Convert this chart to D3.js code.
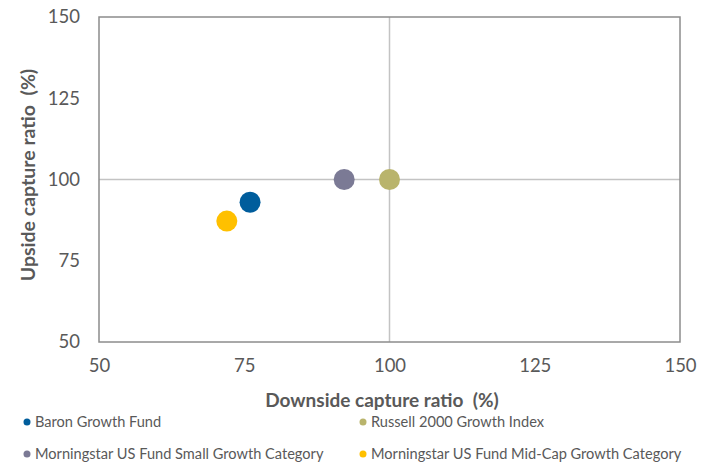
<!DOCTYPE html>
<html>
<head>
<meta charset="utf-8">
<script src="https://cdn.jsdelivr.net/npm/d3@7"></script>
<style>
  body { margin: 0; background: #fff; }
  text { font-family: Lato, "Open Sans", sans-serif; fill: #595959; white-space: pre; }
</style>
</head>
<body>
<svg id="vis" width="709" height="466"></svg>
<script>
// data
let names = ["Baron Growth Fund", "Russell 2000 Growth Index",
             "Morningstar US Fund Small Growth Category", "Morningstar US Fund Mid-Cap Growth Category"];
let downside = [76.0, 100.0, 92.2, 72.0];
let upside = [93.0, 100.0, 100.0, 87.2];
let colors = ["#005d9c", "#b9b46c", "#7b7a95", "#ffc000"];
let ticks = [50, 75, 100, 125, 150];

let svg = d3.select("#vis");
let plotLeft = 99, plotRight = 680, plotTop = 17, plotBottom = 342;

let x = d3.scaleLinear().domain([50, 150]).range([plotLeft, plotRight]);
let y = d3.scaleLinear().domain([50, 150]).range([plotBottom, plotTop]);

// reference lines at 100
svg.append("line")
  .attr("x1", x(100)).attr("x2", x(100))
  .attr("y1", plotTop).attr("y2", plotBottom)
  .attr("stroke", "#c3c3c3").attr("stroke-width", 1.5);
svg.append("line")
  .attr("x1", plotLeft).attr("x2", plotRight)
  .attr("y1", y(100)).attr("y2", y(100))
  .attr("stroke", "#c3c3c3").attr("stroke-width", 1.5);

// frame
svg.append("rect")
  .attr("x", plotLeft).attr("y", plotTop)
  .attr("width", plotRight - plotLeft).attr("height", plotBottom - plotTop)
  .attr("fill", "none").attr("stroke", "#8c8c8c").attr("stroke-width", 1.5);

// axes
let xAxis = svg.append("g").attr("transform", `translate(0,${plotBottom})`)
  .call(d3.axisBottom(x).tickValues(ticks).tickSize(0).tickPadding(17));
let yAxis = svg.append("g").attr("transform", `translate(${plotLeft},0)`)
  .call(d3.axisLeft(y).tickValues(ticks).tickSize(0).tickPadding(19));
[xAxis, yAxis].forEach(a => {
  a.select(".domain").remove();
  a.selectAll("text").style("font-size", "18.5px").attr("fill", "#595959")
    .style("font-family", "Lato, 'Open Sans', sans-serif");
});

svg.append("text")
  .attr("x", 382).attr("y", 407)
  .attr("text-anchor", "middle")
  .style("font-size", "19px").style("font-weight", "bold")
  .text("Downside capture ratio  (%)");
svg.append("text")
  .attr("transform", `translate(35,${175}) rotate(-90)`)
  .attr("text-anchor", "middle")
  .style("font-size", "19.5px").style("font-weight", "bold")
  .text("Upside capture ratio  (%)");

// points
svg.append("g").selectAll("circle")
  .data(names)
  .enter()
  .append("circle")
  .attr("cx", (d, i) => x(downside[i]))
  .attr("cy", (d, i) => y(upside[i]))
  .attr("r", 10.5)
  .attr("fill", (d, i) => colors[i]);

// legend
let legend = svg.append("g").selectAll("g")
  .data(names)
  .enter()
  .append("g")
  .attr("transform", (d, i) => `translate(${i % 2 ? 363 : 27},${i < 2 ? 422 : 454})`);
legend.append("circle").attr("r", 3.5).attr("fill", (d, i) => colors[i]);
legend.append("text")
  .attr("x", 8).attr("dy", "0.35em")
  .style("font-size", "14.6px")
  .text(d => d);
</script>
</body>
</html>
